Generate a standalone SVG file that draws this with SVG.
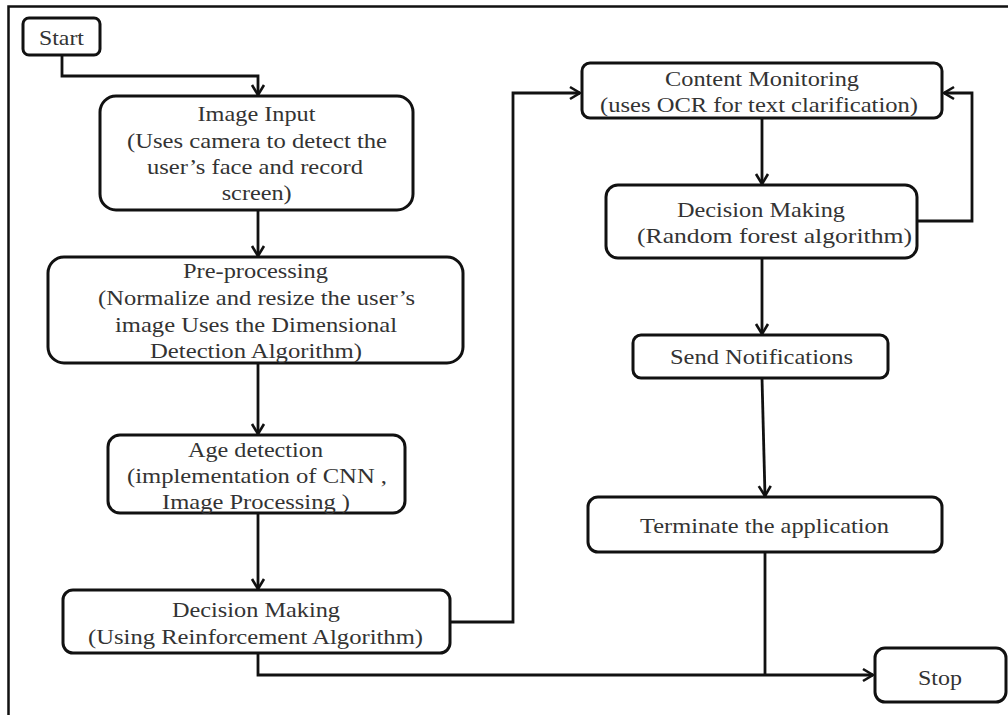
<svg xmlns="http://www.w3.org/2000/svg" width="1008" height="715" viewBox="0 0 1008 715">
<style>
.box{fill:#fff;stroke:#111;stroke-width:3}
.t{font-family:"Liberation Serif","Times New Roman",serif;font-size:22px;fill:#333;text-anchor:middle}
.c{fill:none;stroke:#111;stroke-width:2.8}
.a{marker-end:url(#arr)}
</style>
<defs>
<marker id="arr" markerUnits="userSpaceOnUse" markerWidth="14" markerHeight="16" refX="11" refY="7" orient="auto" viewBox="0 0 14 14">
<path d="M1,1 L11,7 L1,13" fill="none" stroke="#111" stroke-width="2.6"/>
</marker>
</defs>
<rect width="1008" height="715" fill="#fff"/>
<path d="M8.5,715 V6.5 H1008" fill="none" stroke="#111" stroke-width="2.5"/>
<g id="connectors">
<path class="c a" d="M62,55 V76 H258 V95"/>
<path class="c a" d="M258,210 V256"/>
<path class="c a" d="M258,363 V434"/>
<path class="c a" d="M258,513 V589"/>
<path class="c a" d="M450,622 H513 V93 H580"/>
<path class="c a" d="M258,653 V675 H873"/>
<path class="c a" d="M762,118 V184"/>
<path class="c a" d="M917,221 H972 V93 H944"/>
<path class="c a" d="M762,258 V334"/>
<path class="c a" d="M762,378 L765,496"/>
<path class="c" d="M765,552 V675"/>
</g>
<g id="start">
<rect class="box" x="23" y="18" width="77" height="37" rx="6"/>
<text class="t" x="61.5" y="45" textLength="45" lengthAdjust="spacingAndGlyphs">Start</text>
</g>
<g id="image-input">
<rect class="box" x="100" y="96" width="313" height="114" rx="16"/>
<text class="t" x="256.5" y="121" textLength="118" lengthAdjust="spacingAndGlyphs">Image Input</text>
<text class="t" x="257" y="148" textLength="260" lengthAdjust="spacingAndGlyphs">(Uses camera to detect the</text>
<text class="t" x="255" y="174" textLength="216" lengthAdjust="spacingAndGlyphs">user’s face and record</text>
<text class="t" x="256.7" y="200" textLength="70" lengthAdjust="spacingAndGlyphs">screen)</text>
</g>
<g id="pre-processing">
<rect class="box" x="48" y="257" width="415" height="106" rx="16"/>
<text class="t" x="255.5" y="278" textLength="145" lengthAdjust="spacingAndGlyphs">Pre-processing</text>
<text class="t" x="256.5" y="305" textLength="317" lengthAdjust="spacingAndGlyphs">(Normalize and resize the user’s</text>
<text class="t" x="256" y="332" textLength="282" lengthAdjust="spacingAndGlyphs">image Uses the Dimensional</text>
<text class="t" x="256" y="358" textLength="212" lengthAdjust="spacingAndGlyphs">Detection Algorithm)</text>
</g>
<g id="age-detection">
<rect class="box" x="108" y="435" width="297" height="78" rx="12"/>
<text class="t" x="255.5" y="457" textLength="135" lengthAdjust="spacingAndGlyphs">Age detection</text>
<text class="t" x="257" y="483" textLength="260" lengthAdjust="spacingAndGlyphs">(implementation of CNN ,</text>
<text class="t" x="256" y="509" textLength="188" lengthAdjust="spacingAndGlyphs">Image Processing )</text>
</g>
<g id="decision-making-1">
<rect class="box" x="63" y="590" width="387" height="63" rx="10"/>
<text class="t" x="256" y="617" textLength="168" lengthAdjust="spacingAndGlyphs">Decision Making</text>
<text class="t" x="255.5" y="644" textLength="335" lengthAdjust="spacingAndGlyphs">(Using Reinforcement Algorithm)</text>
</g>
<g id="content-monitoring">
<rect class="box" x="582" y="63" width="360" height="55" rx="8"/>
<text class="t" x="762" y="86" textLength="194" lengthAdjust="spacingAndGlyphs">Content Monitoring</text>
<text class="t" x="759" y="112" textLength="318" lengthAdjust="spacingAndGlyphs">(uses OCR for text clarification)</text>
</g>
<g id="decision-making-2">
<rect class="box" x="606" y="185" width="311" height="73" rx="12"/>
<text class="t" x="761" y="217" textLength="168" lengthAdjust="spacingAndGlyphs">Decision Making</text>
<text class="t" x="774.5" y="243" textLength="275" lengthAdjust="spacingAndGlyphs">(Random forest algorithm)</text>
</g>
<g id="send-notifications">
<rect class="box" x="633" y="335" width="255" height="43" rx="8"/>
<text class="t" x="761.5" y="364" textLength="183" lengthAdjust="spacingAndGlyphs">Send Notifications</text>
</g>
<g id="terminate">
<rect class="box" x="588" y="497" width="354" height="55" rx="10"/>
<text class="t" x="764.5" y="533" textLength="249" lengthAdjust="spacingAndGlyphs">Terminate the application</text>
</g>
<g id="stop">
<rect class="box" x="875" y="648" width="131" height="54" rx="10"/>
<text class="t" x="940" y="685" textLength="44" lengthAdjust="spacingAndGlyphs">Stop</text>
</g>
</svg>
